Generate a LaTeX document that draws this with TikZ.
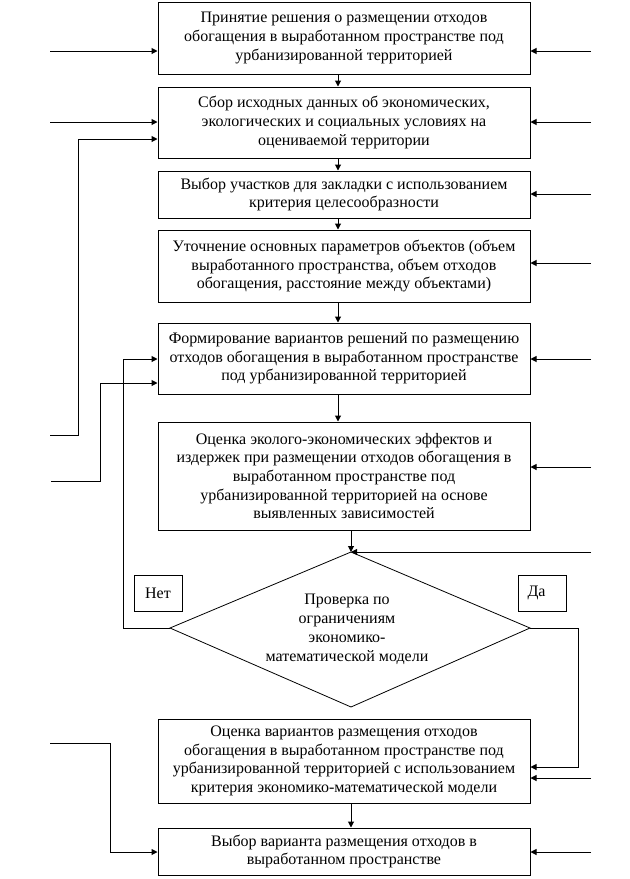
\documentclass[tikz,border=0pt]{standalone}
\usepackage{fontspec}
\setmainfont{Liberation Serif}
\usetikzlibrary{arrows.meta,calc}
\begin{document}
\begin{tikzpicture}[x=0.75pt,y=-0.75pt,
  blk/.style={draw,line width=0.75pt,minimum width={372*0.75pt},align=center,inner sep=0pt,
    font=\fontsize{12}{13.9}\selectfont},
  lbl/.style={draw,line width=0.75pt,minimum width={48*0.75pt},minimum height={36*0.75pt},inner sep=0pt,
    font=\fontsize{12}{13.9}\selectfont},
  arr/.style={line width=0.75pt,-{Triangle[length=4.5pt,width=4.5pt]}},
  ln/.style={line width=0.75pt}]
\useasboundingbox (0,0) rectangle (630,879);
\node[blk,minimum height={72*0.75pt}] (b1) at (344,38) {Принятие решения о размещении отходов\\обогащения в выработанном пространстве под\\урбанизированной территорией};
\node[blk,minimum height={71*0.75pt}] (b2) at (344,122.5) {Сбор исходных данных об экономических,\\экологических и социальных условиях на\\оцениваемой территории};
\node[blk,minimum height={47*0.75pt}] (b3) at (344,194.5) {Выбор участков для закладки с использованием\\критерия целесообразности};
\node[blk,minimum height={72*0.75pt}] (b4) at (344,266) {Уточнение основных параметров объектов (объем\\выработанного пространства, объем отходов\\обогащения, расстояние между объектами)};
\node[blk,minimum height={71*0.75pt}] (b5) at (344,358.5) {Формирование вариантов решений по размещению\\отходов обогащения в выработанном пространстве\\под урбанизированной территорией};
\node[blk,minimum height={108*0.75pt}] (b6) at (344,476) {Оценка эколого-экономических эффектов и\\издержек при размещении отходов обогащения в\\выработанном пространстве под\\урбанизированной территорией на основе\\выявленных зависимостей};
\node[blk,minimum height={84*0.75pt}] (b7) at (344,761) {Оценка вариантов размещения отходов\\обогащения в выработанном пространстве под\\урбанизированной территорией с использованием\\критерия экономико-математической модели};
\node[blk,minimum height={47*0.75pt}] (b8) at (344,851.5) {Выбор варианта размещения отходов в\\выработанном пространстве};
% diamond
\coordinate (dT) at (351,552);
\coordinate (dR) at (530,628);
\coordinate (dB) at (351,707);
\coordinate (dL) at (170,628);
\draw[line width=0.6pt] (dT) -- (dR) -- (dB) -- (dL) -- cycle;
\node[align=center,inner sep=0pt,font=\fontsize{12}{14.2}\selectfont] (dtext) at (347,629) {Проверка по\\ограничениям\\экономико-\\математической модели};
\node[lbl] (net) at (158,593) {Нет};
\node[lbl,text width={30*0.75pt},align=left] (da) at (542.5,593) {Да};
% vertical flow
\draw[arr] (b1.south -| 338,0) -- (b2.north -| 338,0);
\draw[arr] (b2.south -| 338,0) -- (b3.north -| 338,0);
\draw[arr] (b3.south -| 338,0) -- (b4.north -| 338,0);
\draw[arr] (b4.south -| 338,0) -- (b5.north -| 338,0);
\draw[arr] (b5.south -| 338,0) -- (b6.north -| 338,0);
\draw[arr] (b6.south -| dT) -- (dT);
\draw[arr] (b7.south -| dT) -- (b8.north -| dT);
% right inputs
\coordinate (R1) at (591,51);
\coordinate (R2) at (591,122);
\coordinate (R3) at (591,194);
\coordinate (R4) at (591,263);
\coordinate (R5) at (591,359);
\coordinate (R6) at (591,467);
\coordinate (RD) at (591,552);
\coordinate (R7) at (591,778);
\coordinate (R8) at (591,852);
\draw[arr] (R1) -- (R1 -| b1.east);
\draw[arr] (R2) -- (R2 -| b2.east);
\draw[arr] (R3) -- (R3 -| b3.east);
\draw[arr] (R4) -- (R4 -| b4.east);
\draw[arr] (R5) -- (R5 -| b5.east);
\draw[arr] (R6) -- (R6 -| b6.east);
\draw[arr] (RD) -- (dT);
\draw[arr] (R7) -- (R7 -| b7.east);
\draw[arr] (R8) -- (R8 -| b8.east);
% left inputs
\coordinate (L1) at (50,51);
\coordinate (L2) at (50,122);
\coordinate (LA) at (50,435.5);
\coordinate (LB) at (51,481);
\coordinate (LC) at (50,743);
\draw[arr] (L1) -- (L1 -| b1.west);
\draw[arr] (L2) -- (L2 -| b2.west);
\draw[arr] (LA) -- (78,435.5) -- (78,139) -- (b2.west |- 0,139);
\draw[arr] (LB) -- (100,481) -- (100,383) -- (b5.west |- 0,383);
\draw[arr] (LC) -- (110,743) -- (110,852) -- (b8.west |- 0,852);
% Net loop
\draw[arr] (dL) -- (123,628) -- (123,359) -- (b5.west |- 0,359);
% Da
\draw[arr] (dR) -- (578,628) -- (578,767) -- (b7.east |- 0,767);
\end{tikzpicture}
\end{document}
